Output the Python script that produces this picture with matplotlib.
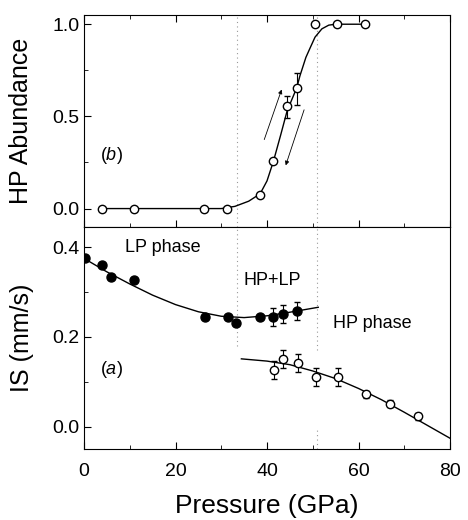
import matplotlib
matplotlib.use("Agg")
import matplotlib.pyplot as plt
from matplotlib.ticker import MultipleLocator, FormatStrFormatter

plt.rcParams['font.family'] = ['Liberation Sans', 'DejaVu Sans']
plt.rcParams['mathtext.fontset'] = 'custom'
plt.rcParams['mathtext.rm'] = 'Liberation Sans'
plt.rcParams['mathtext.it'] = 'Liberation Sans:italic'

# ---- Panel (b): HP abundance ----
hp_p = [4, 11, 26.2, 31.2, 38.5, 41.4, 44.4, 46.5, 50.5, 55.4, 61.4]
hp_ab = [0.0, 0.0, 0.0, 0.0, 0.076, 0.256, 0.554, 0.653, 1.0, 1.0, 1.0]
hp_err_lo = [0, 0, 0, 0, 0, 0, 0.065, 0.09, 0, 0, 0]
hp_err_hi = [0, 0, 0, 0, 0, 0, 0.055, 0.085, 0, 0, 0]
# fit curve
hp_fit_p = [4, 30, 33, 36, 38.5, 40, 41.4, 43, 44.4, 46.5, 47.2, 48.5, 49.4, 50.5, 52, 53.5, 55, 61.4]
hp_fit_y = [0.0, 0.0, 0.012, 0.04, 0.08, 0.15, 0.256, 0.40, 0.53, 0.655, 0.72, 0.82, 0.87, 0.93, 0.975, 0.995, 1.0, 1.0]

# ---- Panel (a): isomer shift ----
lp_p = [0.2, 3.9, 6.0, 11.0, 26.4, 31.4, 33.3, 38.5, 41.4, 43.6, 46.6]
lp_is = [0.376, 0.361, 0.334, 0.326, 0.244, 0.244, 0.230, 0.245, 0.245, 0.251, 0.257]
lp_err = [0, 0, 0, 0, 0, 0, 0, 0, 0.02, 0.02, 0.02]
lp_fit_p = [0, 5, 10, 15, 20, 25, 30, 35, 40, 45, 51.2]
lp_fit_y = [0.375, 0.345, 0.318, 0.293, 0.272, 0.256, 0.246, 0.243, 0.247, 0.255, 0.266]

hp2_p = [41.5, 43.6, 46.7, 50.7, 55.6, 61.6, 66.9, 72.9]
hp2_is = [0.127, 0.151, 0.141, 0.111, 0.111, 0.072, 0.051, 0.023]
hp2_err = [0.02, 0.02, 0.02, 0.02, 0.02, 0.008, 0.008, 0.008]
hp2_fit_p = [34.4, 40, 45, 50, 55, 60, 65, 70, 75, 80]
hp2_fit_y = [0.151, 0.146, 0.138, 0.124, 0.107, 0.085, 0.060, 0.032, 0.003, -0.026]

boundaries = [33.5, 51.0]

fig = plt.figure(figsize=(4.68, 5.2), dpi=100)
L, R = 84/468, 450/468
axb = fig.add_axes([L, 1-227/520, R-L, (227-15)/520])
axa = fig.add_axes([L, 1-449/520, R-L, (449-227)/520])

tick_fs = 14
lab_fs = 18
msz = 6
dot = (0, (1, 3))

# top panel
for xb in boundaries:
    axb.axvline(xb, color='0.6', lw=0.8, ls=dot, zorder=0)
axb.plot(hp_fit_p, hp_fit_y, color='black', lw=1.0, zorder=1)
axb.errorbar(hp_p, hp_ab, yerr=[hp_err_lo, hp_err_hi], fmt='o', mfc='white', mec='black',
             ecolor='black', ms=msz, mew=1.0, capsize=2.5, elinewidth=0.8, zorder=3)
axb.annotate('', xy=(43.4, 0.66), xytext=(39.2, 0.36),
             arrowprops=dict(arrowstyle='-|>', lw=0.6, color='black', mutation_scale=6))
axb.annotate('', xy=(43.9, 0.22), xytext=(48.3, 0.55),
             arrowprops=dict(arrowstyle='-|>', lw=0.6, color='black', mutation_scale=6))
axb.text(3.5, 0.29, r'($\mathit{b}$)', fontsize=13, va='center', ha='left')
axb.set_xlim(0, 80)
axb.set_ylim(-0.1, 1.05)
axb.set_ylabel('HP Abundance', fontsize=lab_fs, labelpad=14)
axb.yaxis.set_major_locator(MultipleLocator(0.5))
axb.yaxis.set_minor_locator(MultipleLocator(0.25))
axb.xaxis.set_major_locator(MultipleLocator(20))
axb.xaxis.set_minor_locator(MultipleLocator(10))
axb.tick_params(axis='x', which='both', direction='in', top=True, bottom=True, labelbottom=False)
axb.tick_params(axis='both', which='major', length=5, labelsize=tick_fs)
axb.tick_params(axis='both', which='minor', length=3)
axb.tick_params(axis='y', which='both', direction='in')
axb.yaxis.set_major_formatter(FormatStrFormatter('%.1f'))

# bottom panel
axa.plot([boundaries[0]] * 2, [0.18, 0.445], color='0.6', lw=0.8, ls=dot, zorder=0)
axa.plot([boundaries[1]] * 2, [0.17, 0.445], color='0.6', lw=0.8, ls=dot, zorder=0)
axa.plot([boundaries[1]] * 2, [-0.05, 0.0], color='0.6', lw=0.8, ls=dot, zorder=0)
axa.plot(lp_fit_p, lp_fit_y, color='black', lw=1.0, zorder=1)
axa.plot(hp2_fit_p, hp2_fit_y, color='black', lw=1.0, zorder=1)
axa.errorbar(lp_p, lp_is, yerr=lp_err, fmt='o', mfc='black', mec='black', ecolor='black',
             ms=msz + 0.5, capsize=2.5, elinewidth=0.8, zorder=3)
axa.errorbar(hp2_p, hp2_is, yerr=hp2_err, fmt='o', mfc='white', mec='black', ecolor='black',
             ms=msz, mew=1.0, capsize=2.5, elinewidth=0.8, zorder=3)
axa.text(17.2, 0.40, 'LP phase', fontsize=13, ha='center', va='center')
axa.text(41.2, 0.325, 'HP+LP', fontsize=13, ha='center', va='center')
axa.text(54.5, 0.23, 'HP phase', fontsize=13, ha='left', va='center')
axa.text(3.5, 0.128, r'($\mathit{a}$)', fontsize=13, ha='left', va='center')
axa.set_xlim(0, 80)
axa.set_ylim(-0.05, 0.445)
axa.set_xlabel('Pressure (GPa)', fontsize=19, labelpad=10)
axa.set_ylabel('IS (mm/s)', fontsize=lab_fs, labelpad=13)
axa.yaxis.set_major_locator(MultipleLocator(0.2))
axa.yaxis.set_minor_locator(MultipleLocator(0.1))
axa.xaxis.set_major_locator(MultipleLocator(20))
axa.xaxis.set_minor_locator(MultipleLocator(10))
axa.tick_params(axis='both', which='both', direction='in')
axa.tick_params(axis='both', which='major', length=5, labelsize=tick_fs)
axa.tick_params(axis='both', which='minor', length=3)
axa.tick_params(axis='x', which='major', pad=10)
axa.yaxis.set_major_formatter(FormatStrFormatter('%.1f'))

fig.savefig('out.png', dpi=100)
